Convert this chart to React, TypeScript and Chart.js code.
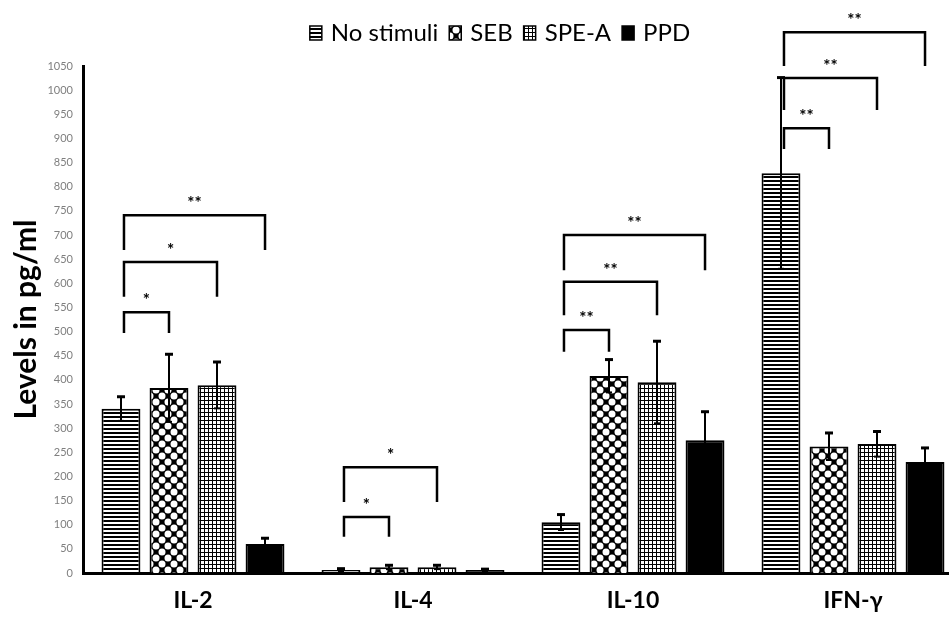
import React, { useEffect, useRef } from 'react';
import { Chart, registerables } from 'chart.js';

Chart.register(...registerables);

// ---- data ----
const categories = ['IL-2', 'IL-4', 'IL-10', 'IFN-γ'];
const seriesNames = ['No stimuli', 'SEB', 'SPE-A', 'PPD'];

const noStimuli = [340, 6, 105, 828];
const seb = [383, 12, 408, 262];
const speA = [389, 12, 395, 267];
const ppd = [60, 6, 275, 230];

const noStimuliSd = [25, 3, 16, 198];
const sebSd = [70, 4, 34, 28];
const speASd = [48, 4, 85, 26];
const ppdSd = [12, 2, 59, 29];

const yMin = 0;
const yMax = 1050;
const yStep = 50;

// significance brackets (No stimuli vs target series within a category)
const bracketCategory = [0, 0, 0, 1, 1, 2, 2, 2, 3, 3, 3];
const bracketTarget = [1, 2, 3, 1, 2, 1, 2, 3, 1, 2, 3];
const bracketTop = [540, 644, 741, 116, 219, 503, 603, 700, 921, 1025, 1120];
const bracketLegEnd = [497, 572, 669, 75, 147, 458, 534, 627, 878, 959, 1050];
const bracketLabel = ['*', '*', '**', '*', '*', '**', '**', '**', '**', '**', '**'];

const seriesValues = [noStimuli, seb, speA, ppd];
const seriesSd = [noStimuliSd, sebSd, speASd, ppdSd];

function makePattern(kind: string): CanvasPattern | string {
  const c = document.createElement('canvas');
  const ctx = c.getContext('2d');
  if (!ctx) return '#000';
  if (kind === 'stripes') {
    c.width = 4; c.height = 4;
    ctx.fillStyle = '#fff'; ctx.fillRect(0, 0, 4, 4);
    ctx.fillStyle = '#000'; ctx.fillRect(0, 0, 4, 2);
  } else if (kind === 'diamonds') {
    c.width = 12; c.height = 12;
    ctx.fillStyle = '#000'; ctx.fillRect(0, 0, 12, 12);
    ctx.fillStyle = '#fff';
    const pts = [[6, 0], [0, 6], [12, 6], [6, 12]];
    for (const [px, py] of pts) {
      ctx.beginPath(); ctx.arc(px, py, 3.5, 0, Math.PI * 2); ctx.fill();
    }
  } else if (kind === 'grid') {
    c.width = 4; c.height = 4;
    ctx.fillStyle = '#fff'; ctx.fillRect(0, 0, 4, 4);
    ctx.fillStyle = '#000'; ctx.fillRect(0, 0, 4, 1); ctx.fillRect(0, 0, 1, 4);
  } else {
    return '#000';
  }
  const p = ctx.createPattern(c, 'repeat');
  return p || '#000';
}

const errorBarsPlugin = {
  id: 'errorBars',
  afterDatasetsDraw(chart: any) {
    const { ctx } = chart;
    const y = chart.scales.y;
    ctx.save();
    ctx.strokeStyle = '#000';
    chart.data.datasets.forEach((ds: any, i: number) => {
      const meta = chart.getDatasetMeta(i);
      meta.data.forEach((el: any, j: number) => {
        const v = seriesValues[i][j];
        const sd = seriesSd[i][j];
        const x = el.x;
        const yt = y.getPixelForValue(v + sd);
        const yb = y.getPixelForValue(Math.max(0, v - sd));
        ctx.lineWidth = 2;
        ctx.beginPath(); ctx.moveTo(x, yt); ctx.lineTo(x, yb); ctx.stroke();
        ctx.lineWidth = 3;
        ctx.beginPath(); ctx.moveTo(x - 4, yt); ctx.lineTo(x + 4, yt); ctx.stroke();
        ctx.lineWidth = 2;
        ctx.beginPath(); ctx.moveTo(x - 3, yb); ctx.lineTo(x + 3, yb); ctx.stroke();
      });
    });
    ctx.restore();
  },
};

const bracketsPlugin = {
  id: 'brackets',
  afterDatasetsDraw(chart: any) {
    const { ctx } = chart;
    const y = chart.scales.y;
    ctx.save();
    ctx.strokeStyle = '#000';
    ctx.fillStyle = '#000';
    ctx.lineWidth = 2.5;
    ctx.font = 'bold 17px Lato';
    ctx.textAlign = 'center';
    ctx.textBaseline = 'alphabetic';
    bracketCategory.forEach((cat, k) => {
      const xl = chart.getDatasetMeta(0).data[cat].x + 3;
      const xr = chart.getDatasetMeta(bracketTarget[k]).data[cat].x;
      const yt = y.getPixelForValue(bracketTop[k]);
      const yl = y.getPixelForValue(bracketLegEnd[k]);
      ctx.beginPath();
      ctx.moveTo(xl, yl); ctx.lineTo(xl, yt); ctx.lineTo(xr, yt); ctx.lineTo(xr, yl);
      ctx.stroke();
      ctx.fillText(bracketLabel[k], (xl + xr) / 2, yt - 6);
    });
    ctx.restore();
  },
};

const legendPlugin = {
  id: 'customLegend',
  afterDraw(chart: any) {
    const { ctx } = chart;
    ctx.save();
    ctx.font = '24px Lato';
    const boxW = 12, boxH = 14, gapBT = 9, gapItem = 11;
    const widths = chart.data.datasets.map((d: any) => ctx.measureText(d.label).width);
    const total = widths.reduce((a: number, w: number) => a + boxW + gapBT + w, 0) + gapItem * (widths.length - 1);
    let x = 500 - total / 2;
    const boxTop = 26;
    const baseline = 41;
    chart.data.datasets.forEach((d: any, i: number) => {
      ctx.fillStyle = d.backgroundColor;
      ctx.fillRect(x, boxTop, boxW, boxH);
      ctx.strokeStyle = '#000';
      ctx.lineWidth = 1.5;
      ctx.strokeRect(x, boxTop, boxW, boxH);
      x += boxW + gapBT;
      ctx.fillStyle = '#000';
      ctx.textAlign = 'left';
      ctx.textBaseline = 'alphabetic';
      ctx.fillText(d.label, x, baseline);
      x += widths[i] + gapItem;
    });
    ctx.restore();
  },
};

export default function App() {
  const ref = useRef<HTMLCanvasElement>(null);

  useEffect(() => {
    const canvas = ref.current;
    if (!canvas) return;
    const fills = [makePattern('stripes'), makePattern('diamonds'), makePattern('grid'), '#000'];
    const chart = new Chart(canvas, {
      type: 'bar',
      data: {
        labels: categories,
        datasets: seriesValues.map((vals, i) => ({
          label: seriesNames[i],
          data: vals,
          backgroundColor: fills[i] as any,
          borderColor: '#000',
          borderWidth: 2,
          categoryPercentage: 0.873,
          barPercentage: 0.81,
        })),
      },
      options: {
        animation: false,
        responsive: false,
        layout: { padding: { top: 66, right: 12, left: 0, bottom: 0 } },
        plugins: { legend: { display: false }, tooltip: { enabled: false } },
        scales: {
          x: {
            grid: { display: false, drawTicks: false },
            border: { display: true, color: '#000', width: 3 },
            ticks: { color: '#000', font: { family: 'Lato', size: 23, weight: 'bold' }, padding: 14 },
            afterFit: (s: any) => { s.height = 48; },
          },
          y: {
            min: yMin,
            max: yMax,
            grid: { display: false, drawTicks: false },
            border: { display: true, color: '#000', width: 3 },
            ticks: {
              stepSize: yStep,
              autoSkip: false,
              color: '#7f7f7f',
              font: { family: 'Lato', size: 11 },
              padding: 10,
              callback: (v: any) => String(v),
            },
            title: {
              display: true,
              text: 'Levels in pg/ml',
              color: '#000',
              font: { family: 'Lato', size: 30, weight: 'bold' },
              padding: { top: 8, bottom: 0 },
            },
            afterFit: (s: any) => { s.width = 83; },
          },
        },
      } as any,
      plugins: [errorBarsPlugin, bracketsPlugin, legendPlugin],
    });
    return () => chart.destroy();
  }, []);

  return (
    <div style={{ position: 'fixed', left: 0, top: 0, width: 949, height: 621, overflow: 'hidden', background: '#fff' }}>
      <canvas ref={ref} width={975} height={621} style={{ display: 'block' }} />
    </div>
  );
}
